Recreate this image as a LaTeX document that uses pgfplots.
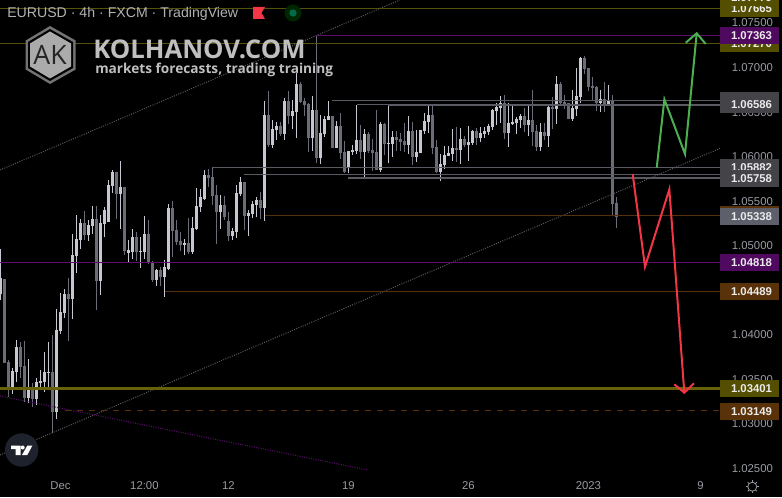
\documentclass[border=0pt]{standalone}
\usepackage{fontspec}
\setmainfont{Liberation Sans}
\newfontfamily\wm{Open Sans}
\usepackage{pgfplots}
\usepackage{pgfplotstable}
\pgfplotsset{compat=1.18}
\definecolor{upc}{HTML}{C6C7D0}
\definecolor{dnc}{HTML}{6A6D78}
\definecolor{lblc}{HTML}{9A9CA4}
\definecolor{olv}{HTML}{55500A}
\definecolor{olvk}{HTML}{66620A}
\definecolor{olvt}{HTML}{544F00}
\definecolor{prp}{HTML}{5E0E6E}
\definecolor{prpt}{HTML}{4F0A60}
\definecolor{brn}{HTML}{55300C}
\definecolor{brnt}{HTML}{5A320A}
\definecolor{gry}{HTML}{5A5A62}
\definecolor{grt}{HTML}{434348}
\definecolor{lst}{HTML}{5D606B}
\definecolor{grn}{HTML}{4CAF50}
\definecolor{rd}{HTML}{F23645}
\definecolor{tvb}{HTML}{1E222D}
\pgfplotstableread{
k lo bot top hi
0 1.04392 1.04459 1.04635 1.04960
3 1.03337 1.03389 1.03595 1.03625
4 1.03475 1.03580 1.03864 1.03943
7 1.03239 1.03292 1.03393 1.03726
9 1.03213 1.03281 1.03468 1.03513
10 1.03400 1.03460 1.03483 1.03606
11 1.03363 1.03471 1.03584 1.03812
12 1.03419 1.03576 1.03584 1.03924
14 1.03056 1.03138 1.04055 1.04291
15 1.04010 1.04048 1.04257 1.04467
16 1.04193 1.04250 1.04459 1.04511
18 1.04175 1.04407 1.04897 1.05132
19 1.04698 1.04886 1.05076 1.05346
20 1.04964 1.05065 1.05256 1.05297
22 1.05054 1.05121 1.05233 1.05290
23 1.05132 1.05222 1.05297 1.05447
25 1.04448 1.04609 1.05256 1.05346
26 1.05095 1.05245 1.05402 1.05432
27 1.05267 1.05267 1.05682 1.05738
28 1.05589 1.05671 1.05828 1.05851
30 1.05189 1.05581 1.05660 1.05952
32 1.04811 1.04923 1.04953 1.05065
33 1.04852 1.04927 1.05099 1.05185
35 1.04755 1.04934 1.04942 1.05099
36 1.04852 1.04927 1.05132 1.05334
39 1.04549 1.04616 1.04728 1.04743
41 1.04429 1.04650 1.04762 1.04841
42 1.04728 1.04740 1.05424 1.05469
46 1.04897 1.05009 1.05031 1.05076
48 1.04908 1.04930 1.05200 1.05323
49 1.05177 1.05189 1.05447 1.05649
50 1.05379 1.05435 1.05548 1.05637
51 1.05514 1.05525 1.05795 1.05851
55 1.05189 1.05379 1.05458 1.05570
58 1.05065 1.05110 1.05166 1.05200
59 1.05088 1.05155 1.05593 1.05682
60 1.05559 1.05581 1.05716 1.05772
62 1.05110 1.05334 1.05368 1.05402
63 1.05312 1.05357 1.05469 1.05503
64 1.05323 1.05458 1.05514 1.05548
66 1.05278 1.05424 1.06468 1.06625
68 1.06098 1.06131 1.06311 1.06412
69 1.06187 1.06300 1.06345 1.06389
71 1.06187 1.06255 1.06625 1.06659
73 1.06311 1.06457 1.06513 1.06636
74 1.06210 1.06502 1.06816 1.06936
78 1.06064 1.06210 1.06524 1.06681
80 1.05918 1.05985 1.06266 1.06468
81 1.06225 1.06255 1.06423 1.06457
82 1.06412 1.06412 1.06457 1.06625
84 1.06098 1.06098 1.06345 1.06401
87 1.05817 1.05884 1.06064 1.06064
88 1.06019 1.06053 1.06075 1.06131
89 1.06030 1.06064 1.06187 1.06580
91 1.05761 1.06053 1.06255 1.06311
95 1.05828 1.05851 1.06367 1.06389
97 1.05926 1.06142 1.06150 1.06580
98 1.05997 1.06142 1.06221 1.06288
102 1.06030 1.06131 1.06288 1.06457
104 1.05940 1.05997 1.06053 1.06300
105 1.06041 1.06041 1.06300 1.06300
106 1.06255 1.06288 1.06401 1.06490
107 1.06266 1.06389 1.06468 1.06591
110 1.05727 1.05828 1.05918 1.06030
111 1.05862 1.05907 1.06019 1.06120
112 1.06008 1.06008 1.06041 1.06120
113 1.05952 1.06030 1.06098 1.06311
115 1.05918 1.06075 1.06199 1.06322
117 1.05952 1.06131 1.06165 1.06345
118 1.06131 1.06154 1.06288 1.06300
120 1.06165 1.06210 1.06266 1.06333
121 1.06210 1.06255 1.06288 1.06333
122 1.06244 1.06277 1.06345 1.06367
123 1.06300 1.06333 1.06524 1.06535
124 1.06356 1.06513 1.06558 1.06603
125 1.06378 1.06547 1.06603 1.06681
127 1.06109 1.06266 1.06378 1.06603
128 1.06356 1.06367 1.06389 1.06569
129 1.06255 1.06378 1.06423 1.06446
130 1.06322 1.06412 1.06457 1.06479
132 1.06232 1.06356 1.06412 1.06580
135 1.06064 1.06109 1.06277 1.06378
137 1.06109 1.06232 1.06558 1.06580
139 1.06367 1.06535 1.06816 1.06906
143 1.06401 1.06423 1.06547 1.06749
144 1.06457 1.06535 1.06681 1.06995
145 1.06603 1.06670 1.07108 1.07119
150 1.06502 1.06603 1.06648 1.06749
152 1.06580 1.06592 1.06636 1.06805
}\upc
\pgfplotstableread{
k lo bot top hi
1 1.03688 1.03688 1.04624 1.04624
2 1.03299 1.03397 1.03696 1.03718
5 1.03513 1.03644 1.03864 1.03924
6 1.03251 1.03292 1.03651 1.03932
8 1.03195 1.03284 1.03393 1.03456
13 1.02895 1.03138 1.03584 1.03999
17 1.03932 1.04407 1.04459 1.04635
21 1.05065 1.05121 1.05256 1.05391
24 1.04279 1.04609 1.05301 1.05447
29 1.05301 1.05581 1.05828 1.05828
31 1.04897 1.04942 1.05660 1.05660
34 1.04829 1.04934 1.05099 1.05151
37 1.04796 1.04807 1.05132 1.05290
38 1.04594 1.04616 1.04818 1.04829
40 1.04549 1.04650 1.04728 1.04762
43 1.04878 1.05166 1.05424 1.05503
44 1.05009 1.05043 1.05177 1.05290
45 1.04942 1.05009 1.05050 1.05155
47 1.04908 1.04930 1.05031 1.05312
52 1.05660 1.05761 1.05795 1.05862
53 1.05458 1.05559 1.05772 1.05884
54 1.05020 1.05379 1.05570 1.05682
56 1.05290 1.05323 1.05458 1.05559
57 1.05054 1.05110 1.05278 1.05379
61 1.05177 1.05334 1.05716 1.05716
65 1.05301 1.05424 1.05514 1.05604
67 1.06113 1.06131 1.06468 1.06737
70 1.06232 1.06255 1.06345 1.06389
72 1.06367 1.06457 1.06625 1.06737
75 1.06599 1.06614 1.06816 1.06838
76 1.06457 1.06580 1.06625 1.06659
77 1.06053 1.06210 1.06591 1.06603
79 1.05929 1.05985 1.06524 1.07366
83 1.06098 1.06098 1.06457 1.06457
85 1.05974 1.06041 1.06345 1.06490
86 1.05821 1.05828 1.06053 1.06176
90 1.05974 1.06053 1.06187 1.06356
92 1.06041 1.06064 1.06255 1.06277
93 1.05839 1.06041 1.06075 1.06199
94 1.05851 1.05851 1.06053 1.06524
96 1.06019 1.06142 1.06367 1.06378
99 1.06064 1.06187 1.06221 1.06288
100 1.06064 1.06165 1.06199 1.06266
101 1.06053 1.06131 1.06176 1.06378
103 1.05907 1.05997 1.06288 1.06389
108 1.06030 1.06098 1.06468 1.06569
109 1.05817 1.05828 1.06109 1.06187
114 1.05940 1.06075 1.06098 1.06333
116 1.06109 1.06131 1.06199 1.06232
119 1.06131 1.06210 1.06288 1.06322
126 1.06199 1.06266 1.06603 1.06692
131 1.06277 1.06356 1.06457 1.06547
133 1.06120 1.06277 1.06412 1.06749
134 1.06064 1.06109 1.06288 1.06356
136 1.06187 1.06232 1.06277 1.06378
138 1.06311 1.06535 1.06558 1.06670
140 1.06592 1.06603 1.06816 1.06838
141 1.06535 1.06592 1.06614 1.06692
142 1.06423 1.06423 1.06603 1.06603
146 1.06928 1.06984 1.07108 1.07130
147 1.06737 1.06782 1.06995 1.06995
148 1.06636 1.06771 1.06793 1.06894
149 1.06513 1.06603 1.06782 1.06793
151 1.06502 1.06592 1.06648 1.06838
153 1.05334 1.05469 1.06636 1.06692
154 1.05200 1.05323 1.05480 1.05548
}\dnc
\newcommand\candles[2]{%
\addplot[forget plot,mark=none,color=#2,line width=.75pt,quiver={u=0,v=\thisrow{hi}-\thisrow{lo}}] table[x=k,y=lo]{#1};
\addplot[forget plot,mark=none,color=#2,line width=2.4pt,quiver={u=0,v=\thisrow{top}-\thisrow{bot}}] table[x=k,y=bot]{#1};
}
\newcommand\lev[5][]{\addplot[forget plot,mark=none,color=#2,line width=#3,#1] coordinates {(#4,#5) (179.9,#5)};}
\newcommand\pricetag[4][white!92!black]{%
\fill[#4] (720,#2-8.5) rectangle (779,#2+8.5);
\node[text=#1,font=\fontsize{8.5}{10}\selectfont\bfseries] at (751.5,#2) {#3};}
\begin{document}
\begin{tikzpicture}
\fill[black] (0,-18pt) rectangle (586.5pt,354.75pt);
\useasboundingbox (0,-18pt) rectangle (586.5pt,354.75pt);
\clip (0,-18pt) rectangle (586.5pt,354.75pt);
\begin{axis}[
  scale only axis,width=540pt,height=354.75pt,at={(0,0)},anchor=south west,
  xmin=-0.1,xmax=179.9,ymin=1.0245,ymax=1.07759,
  axis line style={draw=none},major tick length=0pt,clip=true,
  scaled ticks=false,
  ytick={1.025,1.03,1.035,1.04,1.045,1.05,1.055,1.06,1.065,1.07,1.075},
  yticklabel pos=right,
  yticklabel style={text=lblc,font=\fontsize{8.5}{10}\selectfont,anchor=west,xshift=5.4pt,
    /pgf/number format/.cd,fixed,fixed zerofill,precision=5,assume math mode=true},
  xtick={15,36,57,87,117,147,175},
  xticklabels={Dec,12:00,12,19,26,2023,9},
  xticklabel style={text=lblc,font=\fontsize{8.5}{10}\selectfont,yshift=-3pt},
]
\candles{\dnc}{dnc}
\candles{\upc}{upc}
% dotted channels
\addplot[forget plot,mark=none,color=gry,line width=.75pt,densely dotted] coordinates {(-0.1,1.02652) (179.9,1.06094)};
\addplot[forget plot,mark=none,color=gry,line width=.75pt,densely dotted] coordinates {(-0.1,1.05851) (99.9,1.07759)};
\addplot[forget plot,mark=none,color=prp,line width=.75pt,densely dotted] coordinates {(-0.1,1.03314) (91.9,1.02484)};
% levels
\lev{olv}{.75pt}{-0.1}{1.07665}
\lev{olv}{.75pt}{-0.1}{1.07270}
\lev{prp}{.75pt}{78.9}{1.07363}
\lev{gry}{.75pt}{82.9}{1.06633}
\lev{gry}{.75pt}{89.15}{1.06586}
\lev{gry}{1.5pt}{96.9}{1.06586}
\lev{gry}{.75pt}{52.9}{1.05882}
\lev{gry}{.75pt}{61}{1.05800}
\lev{gry}{1.5pt}{86.9}{1.05758}
\lev{brn}{.75pt}{66.15}{1.05338}
\lev{prp}{.75pt}{-0.1}{1.04818}
\lev{brn}{.75pt}{41.15}{1.04489}
\lev{olvk}{2.25pt}{-0.1}{1.03401}
\lev[dash pattern=on 4.5pt off 4.5pt]{brn}{.75pt}{16.15}{1.03149}
% forecast paths
\addplot[forget plot,mark=none,color=grn,line width=1.5pt] coordinates {(164.08,1.05877) (166,1.06644) (171.15,1.0603) (174.08,1.07385)};
\addplot[forget plot,mark=none,color=grn,line width=1.5pt] coordinates {(171.33,1.07279) (174.08,1.07385) (176.33,1.07265)};
\addplot[forget plot,mark=none,color=rd,line width=1.5pt] coordinates {(158.08,1.05802) (161.15,1.04765) (167.23,1.05634) (170.98,1.03351)};
\addplot[forget plot,mark=none,color=rd,line width=1.5pt] coordinates {(168.48,1.03446) (170.98,1.03351) (173.4,1.03457)};
\end{axis}
\begin{scope}[x=.75pt,y=-.75pt,yshift=354.75pt]
\pricetag{8.4}{1.07665}{olvt}
\pricetag{-2}{1.07779}{olvt}
\pricetag{43.6}{1.07270}{olvt}
\pricetag{35.3}{1.07363}{prpt}
\fill[grt] (720,92) rectangle (779,110);
\pricetag{104.7}{1.06586}{grt}
\fill[grt] (720,166) rectangle (779,183);
\pricetag{167.5}{1.05882}{grt}
\pricetag{178.2}{1.05758}{grt}
\fill[brnt] (720,206) rectangle (779,223);
\pricetag{216.6}{1.05338}{lst}
\pricetag{262.5}{1.04818}{prpt}
\pricetag{291.5}{1.04489}{brnt}
\pricetag{388.3}{1.03401}{olvt}
\pricetag{411.3}{1.03149}{brnt}
% header
\node[anchor=west,text=white!70!black,font=\fontsize{10.6}{12}\selectfont,inner sep=0pt] at (7,14) {EURUSD · 4h · FXCM · TradingView};
\fill[rd] (253,7) -- (265,7) -- (261.5,13) -- (265,19) -- (253,19) -- cycle;
\fill[green!60!black!25!black] (293,13) circle (8.5);
\fill[green!60!blue!70!black] (293,13) circle (3.7);
% logo
\fill[black!55] (50,26) -- (75.7,40.5) -- (75.7,69.5) -- (50,84) -- (25.7,69.5) -- (25.7,40.5) -- cycle;
\fill[black] (50,29) -- (73,42) -- (73,68) -- (50,81) -- (28,68) -- (28,42) -- cycle;
\fill[black!33] (50,31.5) -- (71,43.5) -- (71,66.5) -- (50,78.5) -- (30,66.5) -- (30,43.5) -- cycle;
\node[text=black!85,font=\wm\fontsize{20}{22}\selectfont] at (50,55) {AK};
\node[anchor=west,text=black!25,font=\wm\bfseries\fontsize{19.3}{21}\selectfont,inner sep=0pt] at (93,49) {KOLHANOV.COM};
\node[anchor=west,text=black!25,font=\wm\bfseries\fontsize{10.25}{12}\selectfont,inner sep=0pt] at (95,70) {markets forecasts, trading training};
% tv logo
\fill[tvb] (21.7,450) circle (16.7);
\fill[white] (11,445.7) rectangle (20.7,449) (15.7,449) rectangle (20.7,455);
\fill[white] (22.7,447.5) circle (2);
\fill[white] (27.3,445.7) -- (32.3,445.7) -- (27.3,455) -- (22,455) -- cycle;
% gear
\draw[lblc,line width=.6pt] (752.3,486.7) circle (4.5);
\foreach \a in {0,45,...,315}{\draw[lblc,line width=.6pt] (752.3,486.7) ++(\a:4.5) -- ++(\a:2);}
\end{scope}
\end{tikzpicture}
\end{document}
